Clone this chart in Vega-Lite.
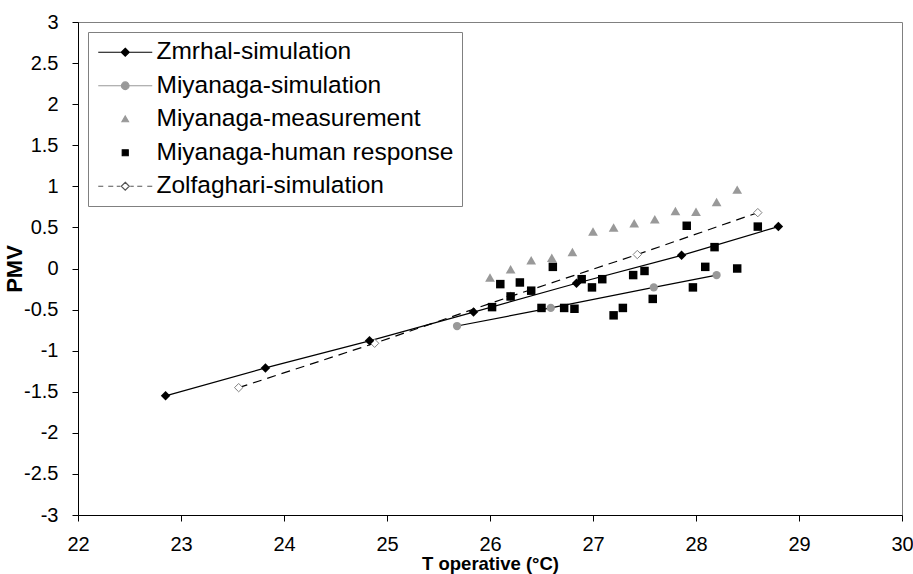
{
  "$schema": "https://vega.github.io/schema/vega-lite/v6.json",
  "width": 824,
  "height": 493,
  "autosize": {"type": "none"},
  "padding": {"left": 78, "top": 22, "right": 11, "bottom": 59},
  "background": "white",
  "config": {
    "view": {"stroke": "#808080", "strokeWidth": 1},
    "font": "Liberation Sans",
    "axis": {
      "grid": false,
      "domainColor": "black",
      "tickColor": "black",
      "labelColor": "black",
      "titleColor": "black",
      "labelFont": "Liberation Sans",
      "labelFontSize": 20,
      "titleFont": "Liberation Sans",
      "titleFontWeight": "bold",
      "tickSize": 6,
      "domainWidth": 1,
      "tickWidth": 1,
      "labelFlush": false,
      "labelOverlap": false
    },
    "legend": {
      "orient": "top-left",
      "offset": 10,
      "padding": 8,
      "strokeColor": "#808080",
      "fillColor": "white",
      "labelFont": "Liberation Sans",
      "labelFontSize": 24.5,
      "labelColor": "black",
      "labelLimit": 500,
      "symbolSize": 400,
      "symbolStrokeWidth": 1.2,
      "symbolOffset": 17,
      "labelOffset": 19,
      "rowPadding": 8.5,
      "symbolOpacity": 1
    }
  },
  "data": {
    "values": [
      {"s": "Zmrhal-simulation", "x": 22.85, "y": -1.55},
      {"s": "Zmrhal-simulation", "x": 23.82, "y": -1.21},
      {"s": "Zmrhal-simulation", "x": 24.83, "y": -0.88},
      {"s": "Zmrhal-simulation", "x": 25.84, "y": -0.53},
      {"s": "Zmrhal-simulation", "x": 26.84, "y": -0.18},
      {"s": "Zmrhal-simulation", "x": 27.86, "y": 0.16},
      {"s": "Zmrhal-simulation", "x": 28.8, "y": 0.51},
      {"s": "Miyanaga-simulation", "x": 25.68, "y": -0.7},
      {"s": "Miyanaga-simulation", "x": 26.59, "y": -0.48},
      {"s": "Miyanaga-simulation", "x": 27.59, "y": -0.23},
      {"s": "Miyanaga-simulation", "x": 28.2, "y": -0.08},
      {"s": "Miyanaga-measurement", "x": 26.0, "y": -0.11},
      {"s": "Miyanaga-measurement", "x": 26.2, "y": -0.01},
      {"s": "Miyanaga-measurement", "x": 26.4, "y": 0.1},
      {"s": "Miyanaga-measurement", "x": 26.6, "y": 0.13},
      {"s": "Miyanaga-measurement", "x": 26.8, "y": 0.2},
      {"s": "Miyanaga-measurement", "x": 27.0, "y": 0.45},
      {"s": "Miyanaga-measurement", "x": 27.2, "y": 0.5},
      {"s": "Miyanaga-measurement", "x": 27.4, "y": 0.55},
      {"s": "Miyanaga-measurement", "x": 27.6, "y": 0.6},
      {"s": "Miyanaga-measurement", "x": 27.8, "y": 0.7},
      {"s": "Miyanaga-measurement", "x": 28.0, "y": 0.69},
      {"s": "Miyanaga-measurement", "x": 28.2, "y": 0.81},
      {"s": "Miyanaga-measurement", "x": 28.4, "y": 0.96},
      {"s": "Miyanaga-human response", "x": 26.02, "y": -0.47},
      {"s": "Miyanaga-human response", "x": 26.1, "y": -0.19},
      {"s": "Miyanaga-human response", "x": 26.2, "y": -0.34},
      {"s": "Miyanaga-human response", "x": 26.29, "y": -0.17},
      {"s": "Miyanaga-human response", "x": 26.4, "y": -0.27},
      {"s": "Miyanaga-human response", "x": 26.5, "y": -0.48},
      {"s": "Miyanaga-human response", "x": 26.61, "y": 0.02},
      {"s": "Miyanaga-human response", "x": 26.72, "y": -0.48},
      {"s": "Miyanaga-human response", "x": 26.82, "y": -0.49},
      {"s": "Miyanaga-human response", "x": 26.89, "y": -0.13},
      {"s": "Miyanaga-human response", "x": 26.99, "y": -0.23},
      {"s": "Miyanaga-human response", "x": 27.09, "y": -0.13},
      {"s": "Miyanaga-human response", "x": 27.2, "y": -0.57},
      {"s": "Miyanaga-human response", "x": 27.29, "y": -0.48},
      {"s": "Miyanaga-human response", "x": 27.39, "y": -0.08},
      {"s": "Miyanaga-human response", "x": 27.5, "y": -0.03},
      {"s": "Miyanaga-human response", "x": 27.58, "y": -0.37},
      {"s": "Miyanaga-human response", "x": 27.91, "y": 0.52},
      {"s": "Miyanaga-human response", "x": 27.97, "y": -0.23},
      {"s": "Miyanaga-human response", "x": 28.09, "y": 0.02},
      {"s": "Miyanaga-human response", "x": 28.18, "y": 0.26},
      {"s": "Miyanaga-human response", "x": 28.4, "y": 0.0},
      {"s": "Miyanaga-human response", "x": 28.6, "y": 0.51},
      {"s": "Zolfaghari-simulation", "x": 23.56, "y": -1.45},
      {"s": "Zolfaghari-simulation", "x": 24.88, "y": -0.91},
      {"s": "Zolfaghari-simulation", "x": 26.2, "y": -0.34},
      {"s": "Zolfaghari-simulation", "x": 27.43, "y": 0.17},
      {"s": "Zolfaghari-simulation", "x": 28.6, "y": 0.68}
    ]
  },
  "encoding": {
    "x": {
      "field": "x",
      "type": "quantitative",
      "scale": {"domain": [22, 30], "nice": false, "zero": false},
      "axis": {
        "values": [22, 23, 24, 25, 26, 27, 28, 29, 30],
        "title": "T operative (°C)",
        "titleFontSize": 18.5,
        "labelPadding": 13,
        "titlePadding": 0
      }
    },
    "y": {
      "field": "y",
      "type": "quantitative",
      "scale": {"domain": [-3, 3], "nice": false, "zero": false},
      "axis": {
        "values": [-3, -2.5, -2, -1.5, -1, -0.5, 0, 0.5, 1, 1.5, 2, 2.5, 3],
        "format": "~g",
        "labelExpr": "replace(datum.label, '−', '-')",
        "title": "PMV",
        "titleFontSize": 22,
        "labelPadding": 14,
        "titlePadding": -3
      }
    }
  },
  "layer": [
    {
      "transform": [{"filter": "datum.s == 'Zolfaghari-simulation'"}],
      "mark": {"type": "line", "color": "black", "strokeWidth": 1.2, "strokeDash": [9, 6]}
    },
    {
      "transform": [{"filter": "datum.s == 'Zmrhal-simulation'"}],
      "mark": {"type": "line", "color": "black", "strokeWidth": 1.2}
    },
    {
      "transform": [{"filter": "datum.s == 'Miyanaga-simulation'"}],
      "mark": {"type": "line", "color": "black", "strokeWidth": 1.2}
    },
    {
      "transform": [{"filter": "datum.s == 'Zolfaghari-simulation'"}],
      "mark": {"type": "point", "shape": "diamond", "filled": true, "fill": "white", "stroke": "#808080", "strokeWidth": 1, "size": 70, "opacity": 1}
    },
    {
      "transform": [{"filter": "datum.s == 'Zmrhal-simulation'"}],
      "mark": {"type": "point", "shape": "diamond", "filled": true, "fill": "black", "strokeWidth": 0, "size": 90, "opacity": 1}
    },
    {
      "transform": [{"filter": "datum.s == 'Miyanaga-simulation'"}],
      "mark": {"type": "point", "shape": "circle", "filled": true, "fill": "#999999", "strokeWidth": 0, "size": 68, "opacity": 1}
    },
    {
      "transform": [{"filter": "datum.s == 'Miyanaga-measurement'"}],
      "mark": {"type": "point", "shape": "triangle-up", "filled": true, "fill": "#999999", "strokeWidth": 0, "size": 95, "opacity": 1}
    },
    {
      "transform": [{"filter": "datum.s == 'Miyanaga-human response'"}],
      "mark": {"type": "point", "shape": "square", "filled": true, "fill": "black", "strokeWidth": 0, "size": 72, "opacity": 1}
    },
    {
      "transform": [{"filter": "false"}],
      "mark": {"type": "point", "filled": true, "opacity": 1},
      "encoding": {
        "shape": {
          "field": "s",
          "type": "nominal",
          "scale": {
            "domain": ["Zmrhal-simulation", "Miyanaga-simulation", "Miyanaga-measurement", "Miyanaga-human response", "Zolfaghari-simulation"],
            "range": [
              "M-2.7,0H2.7M0,-0.4L0.4,0L0,0.4L-0.4,0Z",
              "M-2.7,0H2.7M0.38,0A0.38,0.38,0,1,1,-0.38,0A0.38,0.38,0,1,1,0.38,0Z",
              "M0,-0.33L0.33,0.25L-0.33,0.25Z",
              "M-0.3,-0.3H0.3V0.3H-0.3Z",
              "M-2.7,0H-2.2M-1.7,0H-1.2M-0.85,0H-0.5M0,-0.4L0.4,0L0,0.4L-0.4,0ZM0.5,0H0.85M1.2,0H1.7M2.2,0H2.7"
            ]
          },
          "legend": {"title": null}
        },
        "fill": {
          "field": "s",
          "type": "nominal",
          "scale": {
            "domain": ["Zmrhal-simulation", "Miyanaga-simulation", "Miyanaga-measurement", "Miyanaga-human response", "Zolfaghari-simulation"],
            "range": ["black", "#999999", "#999999", "black", "white"]
          },
          "legend": {"title": null}
        },
        "stroke": {
          "field": "s",
          "type": "nominal",
          "scale": {
            "domain": ["Zmrhal-simulation", "Miyanaga-simulation", "Miyanaga-measurement", "Miyanaga-human response", "Zolfaghari-simulation"],
            "range": ["black", "#999999", "#999999", "black", "#555555"]
          },
          "legend": {"title": null}
        }
      }
    }
  ]
}
